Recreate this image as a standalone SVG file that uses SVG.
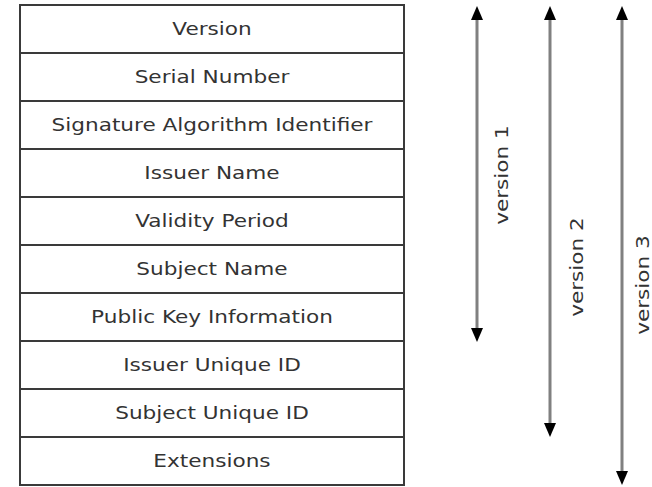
<svg xmlns="http://www.w3.org/2000/svg" width="652" height="487" viewBox="0 0 652 487">
  <defs>
    <style>
      .cell { fill: #ffffff; stroke: #3a3a3a; stroke-width: 2; }
      .label { font-family: "DejaVu Sans", Verdana, sans-serif; font-size: 18px; fill: #333333; text-anchor: middle; }
      .span { stroke: #808080; stroke-width: 3; fill: none; }
      .head { fill: #000000; }
    </style>
  </defs>
  <rect width="652" height="487" fill="#ffffff"/>

  <!-- certificate fields -->
  <g id="version"><rect class="cell" x="20" y="5" width="384" height="48"/><text class="label" transform="translate(212,35) scale(1.2,1)">Version</text></g>
  <g id="serial-number"><rect class="cell" x="20" y="53" width="384" height="48"/><text class="label" transform="translate(212,83) scale(1.2,1)">Serial Number</text></g>
  <g id="signature-algorithm"><rect class="cell" x="20" y="101" width="384" height="48"/><text class="label" transform="translate(212,131) scale(1.2,1)">Signature Algorithm Identifier</text></g>
  <g id="issuer-name"><rect class="cell" x="20" y="149" width="384" height="48"/><text class="label" transform="translate(212,179) scale(1.2,1)">Issuer Name</text></g>
  <g id="validity-period"><rect class="cell" x="20" y="197" width="384" height="48"/><text class="label" transform="translate(212,227) scale(1.2,1)">Validity Period</text></g>
  <g id="subject-name"><rect class="cell" x="20" y="245" width="384" height="48"/><text class="label" transform="translate(212,275) scale(1.2,1)">Subject Name</text></g>
  <g id="public-key"><rect class="cell" x="20" y="293" width="384" height="48"/><text class="label" transform="translate(212,323) scale(1.2,1)">Public Key Information</text></g>
  <g id="issuer-unique-id"><rect class="cell" x="20" y="341" width="384" height="48"/><text class="label" transform="translate(212,371) scale(1.2,1)">Issuer Unique ID</text></g>
  <g id="subject-unique-id"><rect class="cell" x="20" y="389" width="384" height="48"/><text class="label" transform="translate(212,419) scale(1.2,1)">Subject Unique ID</text></g>
  <g id="extensions"><rect class="cell" x="20" y="437" width="384" height="48"/><text class="label" transform="translate(212,467) scale(1.2,1)">Extensions</text></g>

  <!-- version ranges -->
  <g id="connectors">
    <line class="span" x1="477" y1="18" x2="477" y2="330"/>
    <polygon class="head" points="477,6 471,20 483,20"/>
    <polygon class="head" points="477,342 471,328 483,328"/>

    <line class="span" x1="550" y1="18" x2="550" y2="425"/>
    <polygon class="head" points="550,6 544,20 556,20"/>
    <polygon class="head" points="550,437 544,423 556,423"/>

    <line class="span" x1="622" y1="18" x2="622" y2="473"/>
    <polygon class="head" points="622,6 616,20 628,20"/>
    <polygon class="head" points="622,485 616,471 628,471"/>
  </g>

  <g id="range-labels">
    <text class="label" transform="translate(508,175) rotate(-90) scale(1.2,1)">version 1</text>
    <text class="label" transform="translate(583,267) rotate(-90) scale(1.2,1)">version 2</text>
    <text class="label" transform="translate(649,285) rotate(-90) scale(1.2,1)">version 3</text>
  </g>
</svg>
